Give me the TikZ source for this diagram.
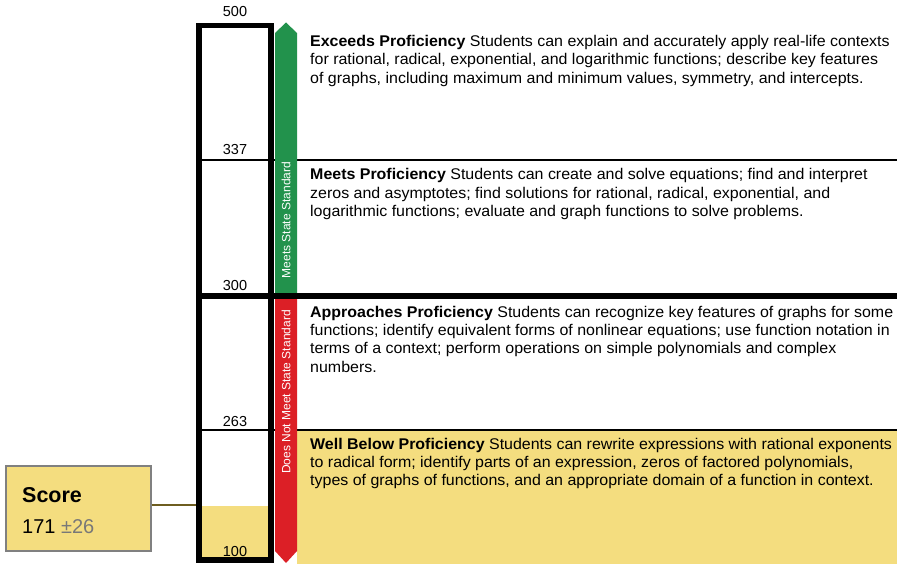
\documentclass[tikz,border=0pt]{standalone}
\usepackage{fontspec}
\setmainfont{Liberation Sans}
\newfontfamily\descfont[FakeStretch=1.03]{Liberation Sans}
\definecolor{bandyellow}{RGB}{244,221,127}
\definecolor{meetgreen}{RGB}{34,146,76}
\definecolor{notred}{RGB}{220,31,38}
\definecolor{boxgray}{RGB}{128,128,128}
\definecolor{linkolive}{RGB}{110,94,32}
\definecolor{pmgray}{RGB}{120,120,120}
\tikzset{
  desc/.style={anchor=base west, align=left, inner sep=0pt, font=\descfont\fontsize{15.5}{18.4}\selectfont},
  scorenum/.style={anchor=base, inner sep=0pt, font=\fontsize{14.5}{16}\selectfont},
  barlabel/.style={rotate=90, text=white, inner sep=0pt, font=\fontsize{12}{13}\selectfont},
  thinrule/.style={line width=1.6pt, black},
  thickrule/.style={line width=5.5pt, black},
}
\begin{document}
\begin{tikzpicture}[x=1pt,y=-1pt]
\useasboundingbox (0,0) rectangle (897,564);
% yellow band for Well Below
\fill[bandyellow] (297,430) rectangle (897,564);
% score fill in column
\fill[bandyellow] (199,506) rectangle (271,560);
% thin rules
\draw[thinrule] (199,160) -- (897,160);
\draw[thinrule] (199,430) -- (897,430);
% column
\node[draw, line width=5.5pt, minimum width=72pt, minimum height=534.5pt, inner sep=0pt] (col) at (235,292.75) {};
% bars
\fill[meetgreen] (275,296) -- (275,33) -- (286,22.5) -- (297,33) -- (297,296) -- cycle;
\fill[notred] (275,296) -- (275,551) -- (286,563) -- (297,551) -- (297,296) -- cycle;
\node[barlabel] (meetslbl) at (286,220) {Meets State Standard};
\node[barlabel] (notlbl) at (286,392) {Does Not Meet State Standard};
% thick rule at 300
\draw[thickrule] (196,296) -- (897,296);
% scale numbers
\node[scorenum] (n500) at (235,16.5) {500};
\node[scorenum] (n337) at (235,155) {337};
\node[scorenum] (n300) at (235,290) {300};
\node[scorenum] (n263) at (235,426) {263};
\node[scorenum] (n100) at (235,556) {100};
% descriptions (anchored at the baseline of their last line)
\node[desc] (exceeds) at (310,83.3) {\textbf{Exceeds Proficiency} Students can explain and accurately apply real-life contexts\\for rational, radical, exponential, and logarithmic functions; describe key features\\of graphs, including maximum and minimum values, symmetry, and intercepts.};
\node[desc] (meets) at (310,216.8) {\textbf{Meets Proficiency} Students can create and solve equations; find and interpret\\zeros and asymptotes; find solutions for rational, radical, exponential, and\\logarithmic functions; evaluate and graph functions to solve problems.};
\node[desc] (approaches) at (310,372.2) {\textbf{Approaches Proficiency} Students can recognize key features of graphs for some\\functions; identify equivalent forms of nonlinear equations; use function notation in\\terms of a context; perform operations on simple polynomials and complex\\numbers.};
\node[desc] (wellbelow) at (310,485.8) {\textbf{Well Below Proficiency} Students can rewrite expressions with rational exponents\\to radical form; identify parts of an expression, zeros of factored polynomials,\\types of graphs of functions, and an appropriate domain of a function in context.};
% score box
\node[draw=boxgray, line width=1.5pt, fill=bandyellow, minimum width=145pt, minimum height=85pt, inner sep=0pt] (score) at (78.25,508.5) {};
\node[anchor=base west, inner sep=0pt, font=\fontsize{21.5}{24}\selectfont\bfseries] (scorelbl) at (22,502.3) {Score};
\node[anchor=base west, inner sep=0pt, font=\fontsize{20}{24}\selectfont] (scoreval) at (22,533.3) {171 \textcolor{pmgray}{±26}};
\draw[linkolive, line width=1.5pt] (score.east |- 0,505) -- (col.west |- 0,505);
\end{tikzpicture}
\end{document}
